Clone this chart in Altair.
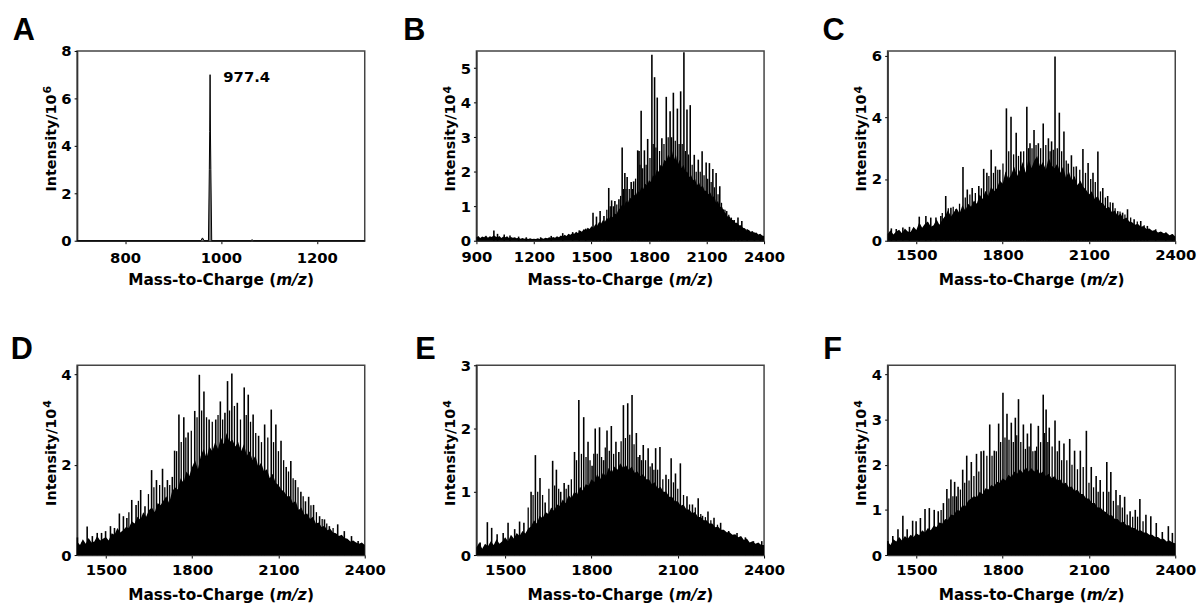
import altair as alt
import pandas as pd

FONT = "DejaVu Sans"
LETTER_FONT = "Liberation Sans"
W, H = 291, 192

# ---------------- Panel A ----------------
A_MZ = [700, 958, 961.5, 965, 974, 975.8, 976.6, 977.4, 978.2, 979.0, 980.8, 1062, 1065, 1068, 1300]
A_I = [0, 0, 0.12, 0, 0, 3.0, 4.6, 7.0, 4.5, 3.0, 0, 0, 0.04, 0, 0]
A_LABEL = "977.4"

# ---------------- Panel B (profile every 10 m/z, 900-2400) ----------------
B_ENV_I = [0.1, 0.14, 0.08, 0.12, 0.1, 0.15, 0.09, 0.13, 0.11, 0.16,
           0.12, 0.1, 0.14, 0.08, 0.12, 0.1, 0.13, 0.08, 0.11, 0.09,
           0.1, 0.07, 0.09, 0.06, 0.08, 0.06, 0.07, 0.05, 0.07, 0.05,
           0.06, 0.05, 0.07, 0.05, 0.08, 0.06, 0.09, 0.07, 0.1, 0.08,
           0.11, 0.09, 0.13, 0.1, 0.15, 0.12, 0.17, 0.14, 0.2, 0.17,
           0.22, 0.2, 0.26, 0.22, 0.3, 0.26, 0.34, 0.3, 0.38, 0.34,
           0.42, 0.38, 0.48, 0.44, 0.55, 0.5, 0.6, 0.55, 0.66, 0.62,
           0.72, 0.68, 0.8, 0.76, 0.9, 0.95, 1.05, 1.0, 1.15, 1.1,
           1.25, 1.2, 1.35, 1.3, 1.45, 1.4, 1.55, 1.5, 1.65, 1.6,
           1.75, 1.7, 1.9, 1.85, 2.05, 2.0, 2.2, 2.15, 2.35, 2.3,
           2.5, 2.4, 2.6, 2.35, 2.5, 2.2, 2.35, 2.1, 2.2, 2.0,
           2.0, 1.85, 1.9, 1.75, 1.8, 1.6, 1.7, 1.55, 1.6, 1.45,
           1.45, 1.35, 1.4, 1.25, 1.3, 1.1, 1.15, 0.98, 1.0, 0.85,
           0.8, 0.7, 0.7, 0.6, 0.6, 0.52, 0.52, 0.45, 0.45, 0.38,
           0.36, 0.3, 0.32, 0.26, 0.28, 0.22, 0.24, 0.18, 0.2, 0.15,
           0.14]
B_PK_MZ = [991, 1010, 1045, 1075, 1120, 1160, 1235, 1290, 1350, 1402, 1436, 1470, 1508, 1526, 1545,
           1565, 1590, 1605, 1622, 1643, 1660, 1674, 1686, 1707, 1720, 1741, 1748, 1759, 1776, 1793,
           1815, 1829, 1843, 1867, 1890, 1910, 1927, 1948, 1965, 1982, 1998, 2015, 2036, 2057, 2077,
           2098, 2115, 2133, 2150, 2169, 2188, 2205, 2229, 2264, 2284, 2312, 2350, 2380]
B_PK_I = [0.30, 0.2, 0.18, 0.15, 0.12, 0.1, 0.1, 0.14, 0.22, 0.25, 0.3, 0.35, 0.81, 0.7, 0.86,
          0.72, 1.53, 1.17, 1.15, 1.2, 2.70, 1.96, 1.85, 1.7, 1.72, 2.62, 2.6, 3.77, 2.62, 2.95,
          5.39, 4.74, 4.15, 2.97, 4.17, 3.75, 4.29, 3.83, 4.33, 5.46, 3.80, 3.93, 2.49, 2.35, 2.59,
          2.27, 2.25, 2.08, 1.96, 1.58, 0.91, 0.86, 0.67, 0.67, 0.57, 0.33, 0.24, 0.15]
B_MN_MZ = [1580, 1598, 1614, 1632, 1652, 1667, 1680, 1697, 1714, 1730, 1753, 1767, 1785, 1805,
           1822, 1836, 1855, 1878, 1900, 1918, 1937, 1957, 1973, 1990, 2006, 2025, 2046, 2067,
           2087, 2106, 2124, 2141, 2160, 2178, 2196, 2216, 2245]
B_MN_I = [0.9, 1.0, 1.0, 1.05, 1.3, 1.5, 1.5, 1.5, 1.5, 1.8, 2.2, 2.1, 2.2, 2.4,
          2.8, 2.7, 2.6, 2.8, 3.0, 3.0, 2.9, 2.8, 2.8, 2.6, 2.5, 2.2, 2.0, 2.0,
          1.9, 1.8, 1.7, 1.55, 1.35, 1.1, 0.9, 0.75, 0.6]

# ---------------- Panels C-F (profile every 10 m/z, 1400-2400) ----------------
C_ENV_I = [0.22, 0.34, 0.2, 0.3, 0.36, 0.24, 0.4, 0.3, 0.28, 0.45,
           0.35, 0.6, 0.42, 0.55, 0.62, 0.45, 0.5, 0.7, 0.52, 0.68,
           0.8, 1.0, 0.78, 0.92, 1.05, 0.88, 1.15, 0.98, 1.2, 1.1,
           1.3, 1.2, 1.5, 1.35, 1.62, 1.45, 1.75, 1.6, 1.7, 1.95,
           1.85, 2.25, 2.0, 2.15, 2.4, 2.1, 2.3, 2.55, 2.2, 2.65,
           2.35, 2.6, 2.75, 2.4, 2.55, 2.3, 2.7, 2.45, 2.35, 2.5,
           2.2, 2.4, 2.05, 2.25, 1.95, 2.1, 1.8, 1.95, 1.75, 1.65,
           1.5, 1.6, 1.35, 1.45, 1.25, 1.2, 1.05, 1.1, 0.92, 0.98,
           0.8, 0.88, 0.7, 0.75, 0.62, 0.6, 0.52, 0.55, 0.45, 0.48,
           0.38, 0.4, 0.32, 0.35, 0.27, 0.3, 0.24, 0.26, 0.18, 0.22,
           0.14]
C_PK_MZ = [1413, 1430, 1453, 1476, 1510, 1533, 1550, 1568, 1585, 1602, 1620, 1637, 1662, 1677, 1694,
           1717, 1734, 1745, 1760, 1775, 1790, 1813, 1829, 1847, 1863, 1884, 1895, 1909, 1924, 1941,
           1959, 1970, 1982, 1997, 2013, 2028, 2039, 2056, 2079, 2097, 2114, 2131, 2148, 2165, 2183,
           2200, 2217, 2234, 2257, 2280, 2303, 2332, 2367, 2390]
C_PK_I = [0.40, 0.38, 0.43, 0.45, 0.78, 0.80, 0.75, 0.75, 0.8, 1.45, 1.07, 1.02, 2.39, 1.66, 1.71,
          1.77, 2.33, 2.2, 2.95, 2.41, 2.30, 4.29, 4.02, 3.50, 2.89, 4.34, 3.16, 3.59, 3.16, 3.80,
          3.32, 3.22, 5.97, 4.15, 3.54, 2.5, 2.77, 2.41, 2.97, 2.52, 2.2, 2.89, 1.71, 1.45, 1.23,
          0.96, 0.91, 1.02, 0.70, 0.64, 0.48, 0.37, 0.27, 0.21]
C_MN_MZ = [1590, 1611, 1628, 1650, 1670, 1686, 1705, 1726, 1752, 1768, 1783, 1801, 1821, 1838,
           1855, 1873, 1890, 1902, 1916, 1932, 1950, 1965, 1976, 1990, 2005, 2021, 2047, 2068,
           2088, 2106, 2122, 2140, 2157, 2174, 2191, 2208, 2225, 2245, 2268, 2292]
C_MN_I = [0.9, 1.05, 1.1, 1.2, 1.4, 1.5, 1.55, 1.7, 2.1, 2.2, 2.3, 2.5, 2.9, 2.8,
          2.75, 2.9, 3.0, 3.0, 3.1, 3.0, 3.1, 2.9, 2.95, 3.0, 2.9, 2.6, 2.4, 2.3,
          2.2, 2.0, 1.9, 1.6, 1.4, 1.25, 1.05, 0.95, 0.85, 0.75, 0.62, 0.5]

D_ENV_I = [0.3, 0.22, 0.35, 0.25, 0.38, 0.28, 0.3, 0.42, 0.32, 0.36,
           0.4, 0.32, 0.48, 0.45, 0.6, 0.5, 0.55, 0.62, 0.6, 0.75,
           0.7, 0.85, 0.78, 0.95, 0.85, 1.0, 1.05, 0.95, 1.15, 1.1,
           1.2, 1.3, 1.15, 1.4, 1.5, 1.45, 1.7, 1.6, 1.85, 1.75,
           1.95, 2.1, 1.9, 2.2, 2.35, 2.15, 2.4, 2.3, 2.5, 2.35,
           2.6, 2.45, 2.7, 2.5, 2.55, 2.4, 2.5, 2.3, 2.45, 2.2,
           2.3, 2.1, 2.2, 1.95, 2.05, 1.85, 1.9, 1.7, 1.8, 1.6,
           1.55, 1.45, 1.4, 1.3, 1.3, 1.15, 1.2, 1.0, 1.05, 0.9,
           0.92, 0.8, 0.85, 0.7, 0.72, 0.62, 0.65, 0.55, 0.58, 0.5,
           0.48, 0.42, 0.45, 0.38, 0.36, 0.3, 0.32, 0.28, 0.25, 0.28,
           0.22]
D_PK_MZ = [1401, 1418, 1435, 1453, 1470, 1485, 1499, 1516, 1530, 1547, 1561, 1573, 1590, 1605, 1621,
           1636, 1659, 1676, 1697, 1714, 1731, 1739, 1754, 1771, 1786, 1809, 1825, 1841, 1859, 1882,
           1898, 1914, 1923, 1938, 1957, 1981, 1995, 2012, 2031, 2052, 2075, 2091, 2109, 2127, 2143,
           2159, 2178, 2194, 2205, 2222, 2243, 2260, 2277, 2306, 2329, 2354, 2377]
D_PK_I = [0.39, 0.28, 0.63, 0.42, 0.49, 0.49, 0.53, 0.64, 0.6, 0.92, 0.86, 0.82, 1.22, 1.11, 1.44,
          1.08, 1.88, 1.66, 1.91, 1.66, 1.73, 2.31, 3.11, 3.05, 2.71, 3.19, 3.99, 3.62, 3.0, 3.0,
          3.4, 3.15, 3.85, 4.02, 3.37, 3.71, 3.55, 3.11, 2.64, 2.89, 3.22, 2.89, 2.53, 1.95, 2.08,
          1.66, 1.4, 1.19, 1.29, 1.11, 0.86, 0.79, 0.64, 0.68, 0.53, 0.42, 0.31]
D_MN_MZ = [1580, 1613, 1648, 1667, 1687, 1705, 1722, 1746, 1762, 1778, 1797, 1817, 1833, 1850,
           1870, 1890, 1906, 1930, 1947, 1968, 1988, 2003, 2021, 2041, 2063, 2083, 2100, 2118,
           2135, 2151, 2168, 2186, 2213, 2232, 2252, 2268, 2290]
D_MN_I = [0.95, 1.2, 1.35, 1.5, 1.55, 1.5, 1.55, 2.3, 2.5, 2.6, 2.75, 3.05, 3.2, 3.05,
          2.95, 3.1, 3.0, 3.2, 3.3, 3.0, 3.1, 2.95, 2.7, 2.5, 2.6, 2.5, 2.3, 2.1,
          1.85, 1.7, 1.5, 1.3, 1.1, 0.95, 0.8, 0.7, 0.6]

E_ENV_I = [0.12, 0.2, 0.1, 0.18, 0.14, 0.22, 0.16, 0.25, 0.18, 0.22,
           0.28, 0.22, 0.32, 0.26, 0.35, 0.3, 0.38, 0.34, 0.42, 0.45,
           0.55, 0.5, 0.62, 0.58, 0.68, 0.65, 0.75, 0.7, 0.8, 0.78,
           0.88, 0.82, 0.95, 0.9, 1.0, 0.96, 1.08, 1.02, 1.12, 1.1,
           1.2, 1.15, 1.28, 1.2, 1.3, 1.25, 1.38, 1.3, 1.4, 1.35,
           1.45, 1.38, 1.42, 1.35, 1.4, 1.3, 1.32, 1.25, 1.28, 1.2,
           1.2, 1.12, 1.15, 1.05, 1.08, 1.0, 1.0, 0.92, 0.92, 0.85,
           0.85, 0.78, 0.8, 0.72, 0.72, 0.66, 0.68, 0.6, 0.6, 0.55,
           0.55, 0.5, 0.5, 0.44, 0.45, 0.4, 0.4, 0.36, 0.36, 0.32,
           0.33, 0.28, 0.3, 0.24, 0.26, 0.2, 0.22, 0.18, 0.2, 0.16,
           0.16]
E_PK_MZ = [1413, 1438, 1453, 1472, 1493, 1510, 1533, 1550, 1565, 1590, 1605, 1621, 1639, 1665, 1678,
           1693, 1705, 1720, 1741, 1756, 1773, 1788, 1802, 1813, 1828, 1842, 1854, 1869, 1885, 1895,
           1911, 1926, 1941, 1956, 1968, 1980, 1997, 2011, 2023, 2038, 2059, 2077, 2092, 2109, 2132,
           2151, 2171, 2186, 2205, 2226, 2249, 2277, 2306, 2335, 2363, 2392]
E_PK_I = [0.2, 0.52, 0.43, 0.33, 0.35, 0.51, 0.41, 0.53, 0.51, 1.0, 1.58, 1.22, 0.83, 1.49, 1.35,
          1.0, 1.14, 1.11, 1.63, 2.45, 2.18, 1.79, 1.41, 2.0, 2.02, 1.5, 1.97, 2.04, 1.79, 1.63,
          2.37, 2.4, 2.53, 1.93, 1.58, 1.74, 1.69, 1.45, 1.69, 1.71, 1.27, 1.53, 1.29, 1.45, 0.93,
          0.8, 0.9, 0.62, 0.69, 0.59, 0.51, 0.38, 0.35, 0.28, 0.22, 0.22]
E_MN_MZ = [1580, 1597, 1613, 1630, 1652, 1672, 1686, 1712, 1730, 1748, 1765, 1781, 1795, 1808,
           1820, 1835, 1848, 1862, 1877, 1903, 1918, 1933, 1948, 1962, 1974, 1988, 2004, 2017,
           2030, 2048, 2068, 2085, 2100, 2120, 2141, 2161, 2180, 2196, 2215, 2238]
E_MN_I = [0.75, 0.95, 1.0, 0.95, 1.05, 1.1, 1.05, 1.05, 1.2, 1.5, 1.6, 1.55, 1.5, 1.6,
          1.6, 1.55, 1.7, 1.65, 1.6, 1.8, 1.85, 1.9, 1.75, 1.55, 1.5, 1.5, 1.4, 1.35,
          1.35, 1.2, 1.2, 1.15, 1.05, 0.95, 0.8, 0.75, 0.65, 0.6, 0.55, 0.48]

F_ENV_I = [0.3, 0.22, 0.35, 0.3, 0.4, 0.32, 0.42, 0.36, 0.45, 0.4,
           0.48, 0.44, 0.55, 0.5, 0.6, 0.55, 0.65, 0.62, 0.72, 0.7,
           0.8, 0.78, 0.9, 0.88, 1.0, 0.98, 1.1, 1.08, 1.2, 1.25,
           1.3, 1.28, 1.4, 1.35, 1.48, 1.45, 1.55, 1.52, 1.62, 1.6,
           1.7, 1.65, 1.78, 1.72, 1.85, 1.8, 1.9, 1.82, 1.95, 1.85,
           1.92, 1.85, 1.9, 1.8, 1.85, 1.75, 1.8, 1.7, 1.75, 1.65,
           1.68, 1.58, 1.6, 1.5, 1.52, 1.42, 1.45, 1.35, 1.35, 1.25,
           1.25, 1.15, 1.15, 1.05, 1.05, 0.98, 0.95, 0.88, 0.88, 0.8,
           0.8, 0.72, 0.74, 0.66, 0.66, 0.6, 0.6, 0.54, 0.55, 0.5,
           0.5, 0.45, 0.45, 0.4, 0.4, 0.35, 0.36, 0.3, 0.32, 0.28,
           0.26]
F_PK_MZ = [1401, 1418, 1436, 1453, 1468, 1487, 1499, 1514, 1530, 1545, 1562, 1576, 1594, 1606, 1620,
           1633, 1645, 1661, 1675, 1691, 1709, 1725, 1734, 1755, 1771, 1786, 1801, 1815, 1830, 1844,
           1855, 1872, 1886, 1898, 1913, 1924, 1941, 1951, 1962, 1982, 1997, 2013, 2033, 2050, 2070,
           2091, 2108, 2125, 2139, 2162, 2176, 2194, 2208, 2224, 2243, 2261, 2277, 2298, 2315, 2334,
           2355, 2376, 2390]
F_PK_I = [0.31, 0.42, 0.57, 0.87, 0.57, 0.76, 0.75, 0.82, 1.02, 1.04, 1.0, 0.97, 1.15, 1.46, 1.67,
          1.62, 1.51, 1.89, 2.2, 2.06, 2.24, 2.3, 2.31, 2.89, 2.31, 2.91, 3.59, 3.13, 2.93, 3.04,
          3.45, 2.89, 2.69, 2.91, 2.31, 2.86, 3.55, 3.22, 2.82, 2.98, 2.53, 2.47, 2.57, 2.31, 2.31,
          2.75, 1.95, 1.75, 1.66, 2.06, 1.84, 1.44, 1.33, 1.29, 0.97, 1.0, 1.24, 0.89, 0.86, 0.71,
          0.51, 0.64, 0.49]
F_MN_MZ = [1586, 1613, 1627, 1639, 1653, 1668, 1683, 1700, 1717, 1745, 1763, 1778, 1793, 1808,
           1822, 1837, 1849, 1863, 1879, 1892, 1905, 1918, 1932, 1946, 1957, 1972, 1990, 2005,
           2023, 2041, 2060, 2080, 2100, 2116, 2132, 2150, 2169, 2185, 2201, 2216, 2233, 2252,
           2269, 2288]
F_MN_I = [1.0, 1.25, 1.3, 1.3, 1.45, 1.6, 1.65, 1.75, 1.85, 2.2, 2.2, 2.3, 2.5, 2.6,
          2.55, 2.5, 2.65, 2.5, 2.35, 2.4, 2.3, 2.4, 2.5, 2.7, 2.5, 2.4, 2.3, 2.1,
          2.1, 2.0, 1.9, 1.95, 1.6, 1.5, 1.4, 1.4, 1.4, 1.2, 1.1, 1.05, 0.9, 0.85,
          0.85, 0.75]

B_GRID = list(range(900, 2401, 10))
CF_GRID = list(range(1400, 2401, 10))

Y_TITLE = "Intensity/10"
Y_EXP = {"A": "6", "B": "4", "C": "4", "D": "4", "E": "4", "F": "4"}
X_TITLE = ["Mass-to-Charge (", "m/z", ")"]


def axes(xdom, xticks, ydom, yticks, lpad):
    x = alt.X("mz:Q", scale=alt.Scale(domain=xdom, nice=False, zero=False),
              axis=alt.Axis(values=xticks, title=None, format="d", grid=False, labelPadding=lpad))
    y = alt.Y("I:Q", scale=alt.Scale(domain=ydom, nice=False, zero=True),
              axis=alt.Axis(values=yticks, title=None, format="d", grid=False))
    return x, y


def txt(s, x, y, **kw):
    return alt.Chart(pd.DataFrame({"t": [s]})).mark_text(color="black", **kw).encode(
        text="t:N", x=alt.value(x), y=alt.value(y))


def deco(letter, ldx, ldy):
    out = [txt(letter, ldx, ldy, font=LETTER_FONT, fontWeight="bold", fontSize=31,
               align="left", baseline="alphabetic")]
    p = W / 2 + 56
    ty = H + 45
    out.append(txt(X_TITLE[0], p, ty, font=FONT, fontWeight="bold", fontSize=15.5,
                   align="right", baseline="alphabetic"))
    out.append(txt(X_TITLE[1], p, ty, font=FONT, fontWeight="bold", fontStyle="italic",
                   fontSize=15.5, align="left", baseline="alphabetic"))
    out.append(txt(X_TITLE[2], p + 31, ty, font=FONT, fontWeight="bold", fontSize=15.5,
                   align="left", baseline="alphabetic"))
    q = 44
    out.append(txt(Y_TITLE, -21.5, q, font=FONT, fontWeight="bold", fontSize=14.5,
                   align="right", baseline="alphabetic", angle=270))
    out.append(txt(Y_EXP[letter], -26, q - 1, font=FONT, fontWeight="bold", fontSize=11,
                   align="left", baseline="alphabetic", angle=270))
    return out


def spectrum(letter, ldx, ldy, grid, env_i, pk_mz, pk_i, mn_mz, mn_i,
             xdom, xticks, ydom, yticks, lpad):
    x, y = axes(xdom, xticks, ydom, yticks, lpad)
    env = pd.DataFrame({"mz": grid, "I": env_i})
    pk = pd.DataFrame({"mz": pk_mz, "I": pk_i})
    mn = pd.DataFrame({"mz": mn_mz, "I": mn_i})
    area = alt.Chart(env).mark_area(color="black", interpolate="linear").encode(x=x, y=y)
    minor = alt.Chart(mn).mark_rule(color="black", strokeWidth=1.3).encode(
        x=x, y=y, y2=alt.datum(0))
    rules = alt.Chart(pk).mark_rule(color="black", strokeWidth=1.6).encode(
        x=x, y=y, y2=alt.datum(0))
    return alt.layer(area, minor, rules, *deco(letter, ldx, ldy)).properties(width=W, height=H)


# Panel A
xa, ya = axes([700, 1300], [800, 1000, 1200], [0, 8], [0, 2, 4, 6, 8], 7)
a_df = pd.DataFrame({"mz": A_MZ, "I": A_I})
a_area = alt.Chart(a_df).mark_area(color="#777777").encode(x=xa, y=ya)
a_line = alt.Chart(a_df).mark_line(color="black", strokeWidth=1).encode(x=xa, y=ya)
a_lab = alt.Chart(pd.DataFrame({"mz": [1005], "I": [6.9], "t": [A_LABEL]})).mark_text(
    font=FONT, fontWeight="bold", fontSize=15, align="left", baseline="middle", color="black"
).encode(x=xa, y=ya, text="t:N")
pA = alt.layer(a_area, a_line, a_lab, *deco("A", -65, -11)).properties(width=W, height=H)

XT = [1500, 1800, 2100, 2400]
pB = spectrum("B", -74, -11, B_GRID, B_ENV_I, B_PK_MZ, B_PK_I, B_MN_MZ, B_MN_I, [900, 2400],
              [900, 1200, 1500, 1800, 2100, 2400], [0, 5.5], [0, 1, 2, 3, 4, 5], 6)
pC = spectrum("C", -66, -11, CF_GRID, C_ENV_I, C_PK_MZ, C_PK_I, C_MN_MZ, C_MN_I, [1400, 2400], XT,
              [0, 6.15], [0, 2, 4, 6], 4)
pD = spectrum("D", -67, -6, CF_GRID, D_ENV_I, D_PK_MZ, D_PK_I, D_MN_MZ, D_MN_I, [1400, 2400], XT,
              [0, 4.2], [0, 2, 4], 5)
pE = spectrum("E", -62, -6, CF_GRID, E_ENV_I, E_PK_MZ, E_PK_I, E_MN_MZ, E_MN_I, [1400, 2400], XT,
              [0, 3], [0, 1, 2, 3], 5)
pF = spectrum("F", -65, -6, CF_GRID, F_ENV_I, F_PK_MZ, F_PK_I, F_MN_MZ, F_MN_I, [1400, 2400], XT,
              [0, 4.2], [0, 1, 2, 3, 4], 5)


def spacer(w):
    return alt.Chart(pd.DataFrame({"s": [0]})).mark_point(opacity=0).encode(
        x=alt.X("s:Q", axis=None), y=alt.Y("s:Q", axis=None)
    ).properties(width=w, height=H, view=alt.ViewBackground(strokeOpacity=0))


chart = alt.concat(
    pA, spacer(113), pB, spacer(113), pC,
    pD, spacer(101), pE, spacer(125), pF,
    columns=5, spacing={"row": 126, "column": 0}, align="none", bounds="flush",
).properties(
    padding={"left": 10, "top": 11, "right": 0, "bottom": 0}
).configure_view(
    stroke="#444444", strokeWidth=1.5
).configure_axis(
    labelFont=FONT, labelFontWeight="bold", labelFontSize=15, labelColor="black",
    tickColor="black", tickSize=3, domainColor="#333333", domainWidth=1.5,
    labelFlush=False, labelOverlap=False
).configure_axisY(labelPadding=3)

chart.save("out.html", embed_options={"renderer": "svg", "actions": False})
